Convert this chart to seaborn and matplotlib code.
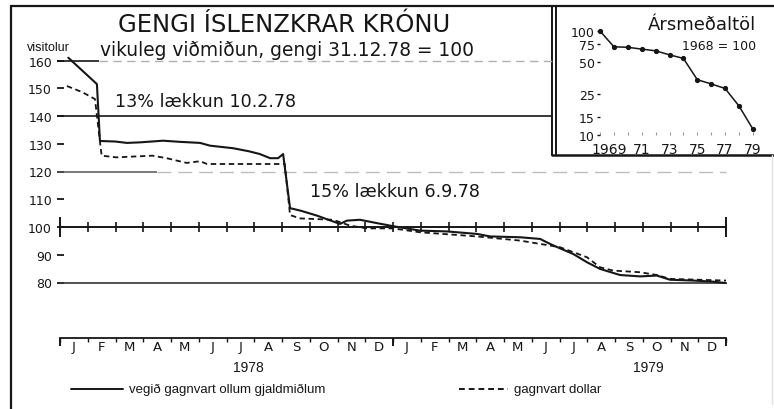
import matplotlib.pyplot as plt
import numpy as np
import seaborn as sns
from matplotlib.ticker import NullFormatter, NullLocator
from matplotlib.transforms import ScaledTranslation


# Gengisvísitala, x = mánuðir frá 1.1.1978 (0..24)
solid_months = [0.3, 1.33, 1.44, 2.0, 2.41, 2.88, 3.3, 3.71, 4.3, 5.05, 5.41, 6.23,
                6.8, 7.2, 7.57, 7.86, 8.04, 8.29, 8.7, 9.26, 10.09, 10.34, 10.81,
                11.42, 12.0, 12.97, 13.95, 15.03, 15.5, 16.58, 17.3, 17.66, 18.02,
                18.49, 18.99, 19.46, 20.18, 20.9, 21.51, 21.98, 22.81, 23.53, 24.0]
solid_index = [161.0, 151.5, 131.0, 130.8, 130.3, 130.5, 130.8, 131.1, 130.7, 130.3,
               129.3, 128.4, 127.3, 126.3, 124.8, 124.8, 126.3, 106.8, 105.8, 104.1,
               101.1, 102.3, 102.6, 101.4, 100.3, 98.7, 98.4, 97.5, 96.6, 96.3, 95.7,
               93.9, 92.3, 90.3, 87.3, 84.9, 82.7, 82.2, 82.5, 81.0, 80.7, 80.3, 79.8]

dollar_months = [0.25, 0.8, 1.26, 1.5, 2.03, 3.33, 3.84, 4.56, 5.05, 5.3, 7.93, 8.1,
                 8.29, 8.65, 9.84, 10.45, 11.06, 12.0, 12.97, 15.03, 16.58, 17.55,
                 18.02, 18.99, 19.46, 19.93, 20.9, 21.51, 21.98, 24.0]
dollar_index = [150.8, 148.6, 146.1, 125.7, 125.1, 125.7, 124.8, 123.1, 123.7, 122.7,
                122.7, 122.7, 104.3, 103.1, 102.6, 100.5, 99.5, 99.5, 98.1, 96.6,
                95.1, 93.5, 92.7, 89.1, 85.5, 84.3, 83.7, 82.7, 81.3, 80.7]

month_letters = ['J', 'F', 'M', 'A', 'M', 'J', 'J', 'A', 'S', 'O', 'N', 'D'] * 2
y_ticks = [160, 150, 140, 130, 120, 110, 100, 90, 80]

# Ársmeðaltöl, 1968 = 100
inset_years = list(range(1968, 1980))
inset_index = [100, 70.5, 69.7, 67, 64.5, 59, 54.5, 34, 31, 28, 19, 11.4]
inset_yticks = [100, 75, 50, 25, 15, 10]
inset_xticks = [1969, 1971, 1973, 1975, 1977, 1979]
inset_xlabels = ['1969', '71', '73', '75', '77', '79']

sns.set_style('white')
plt.rcParams['font.family'] = ['DejaVu Sans']
narrow = ['Liberation Sans Narrow', 'Liberation Sans', 'DejaVu Sans']
ink = '#161616'

W, H = 774, 410
fig = plt.figure(figsize=(W / 100, H / 100), dpi=100)

# pixel-axes fyrir ramma og texta
bg = fig.add_axes([0, 0, 1, 1])
bg.set_xlim(0, W)
bg.set_ylim(H, 0)
bg.axis('off')

# aðalgraf: 60 px = mánuður 0, 27.75 px/mán; 228 px = 100, 2.775 px/einingu
PX_M, X0 = 27.75, 60
PX_U, Y100 = 2.775, 228
ax = fig.add_axes([0, 0, 1, 1])
ax.patch.set_alpha(0)
ax.set_xlim(-X0 / PX_M, (W - X0) / PX_M)
ax.set_ylim(100 - (H - Y100) / PX_U, 100 + Y100 / PX_U)

x_left = -3 / PX_M
x_inset = (552 - X0) / PX_M

# láréttar línur
ax.hlines(160, x_left, 1.4, color=ink, lw=1.2)
ax.hlines(160, 1.4, x_inset, color='#b0b0b0', lw=1.0, linestyles=(0, (6, 4)))
ax.hlines(140, x_left, x_inset, color=ink, lw=1.2)
ax.hlines(120, x_left, 3.5, color='#555555', lw=1.1)
ax.hlines(120, 3.5, 24, color='#bdbdbd', lw=1.0, linestyles=(0, (10, 5)))
ax.hlines(80, x_left, 24, color='#333333', lw=1.2)

edges = np.arange(25)
ax.plot(edges, [100] * len(edges), color=ink, lw=1.4, marker='|', ms=7, mew=1.2)
ax.plot([0, 24], [100, 100], ls='none', color=ink, marker='|', ms=14, mew=1.4)

sns.lineplot(x=solid_months, y=solid_index, ax=ax, color=ink, lw=1.5,
             sort=False, estimator=None)
sns.lineplot(x=dollar_months, y=dollar_index, ax=ax, color=ink, lw=1.3,
             linestyle=(0, (3, 2)), sort=False, estimator=None)

# ásar
for s in ['top', 'right']:
    ax.spines[s].set_visible(False)
ax.spines['left'].set_position(('data', x_left))
ax.spines['left'].set_color('none')
ax.spines['bottom'].set_position(('data', 60))
ax.spines['bottom'].set_bounds(0, 24)
ax.spines['bottom'].set_color(ink)
ax.spines['bottom'].set_linewidth(1.3)

ax.set_yticks(y_ticks, labels=[str(v) for v in y_ticks])
ax.tick_params(axis='y', left=True, direction='in', length=5, width=1.3, pad=3.6,
               labelsize=9, colors=ink)
ax.set_xticks(edges)
ax.xaxis.set_major_formatter(NullFormatter())
ax.set_xticks(np.arange(0.5, 24), labels=month_letters, minor=True)
ax.tick_params(axis='x', which='major', bottom=True, direction='out', length=3,
               width=1, colors=ink)
ax.tick_params(axis='x', which='minor', length=0, pad=1.5, labelsize=9.5, labelcolor=ink)
ax.vlines([0, 12, 24], 60 - 8 / PX_U, 60, color=ink, lw=1.4)

ax.text(6.8, 49.6, '1978', ha='center', va='center', fontsize=10, family=narrow, color=ink)
ax.text(21.2, 49.6, '1979', ha='center', va='center', fontsize=10, family=narrow, color=ink)

ax.text(1.98, 145.4, '13% lækkun 10.2.78', ha='left', va='center', fontsize=12.6, color=ink)
ax.text(9.0, 113.0, '15% lækkun 6.9.78', ha='left', va='center', fontsize=12.6, color=ink)

# rammi
bg.plot([11, 11], [7, H], color=ink, lw=1.6)
bg.plot([11, W], [7, 7], color=ink, lw=1.6)
bg.plot([552, 552], [7, 156], color=ink, lw=1.4)
bg.plot([556, 556], [7, 156], color=ink, lw=1.4)
bg.plot([552, W], [156, 156], color=ink, lw=1.8)
bg.plot([772, 772], [156, 405], color='#e2e2e2', lw=1.0)

bg.text(118, 25, 'GENGI ÍSLENZKRAR KRÓNU', ha='left', va='center', fontsize=17.5, color=ink)
bg.text(100, 50, 'vikuleg viðmiðun, gengi 31.12.78 = 100', ha='left', va='center',
        fontsize=13.4, color=ink)
bg.text(27, 48, 'visitolur', ha='left', va='center', fontsize=9, family=narrow, color=ink)

# skýringar
bg.plot([71, 123], [390, 390], color=ink, lw=1.4)
bg.text(129, 390, 'vegið gagnvart ollum gjaldmiðlum', ha='left', va='center',
        fontsize=9.5, family=narrow, color=ink)
bg.plot([459, 508], [390, 390], color=ink, lw=1.4, linestyle=(0, (3, 2)))
bg.text(514, 390, 'gagnvart dollar', ha='left', va='center', fontsize=9.5,
        family=narrow, color=ink)

# innfellt graf (log)
PX_Y = 13.9
axi = fig.add_axes([597 / W, 1 - 136 / H, (W - 597) / W, 116 / H])
axi.patch.set_alpha(0)
axi.set_yscale('log')
axi.set_ylim(10, 10 ** (1 + 116 / 104))
axi.set_xlim(1968 - 3 / PX_Y, 1968 + (W - 600) / PX_Y)
sns.lineplot(x=inset_years, y=inset_index, ax=axi, color=ink, lw=1.1, marker='o',
             markersize=3, markeredgecolor=ink, sort=False, estimator=None)
for s in axi.spines.values():
    s.set_visible(False)
axi.set_yticks(inset_yticks, labels=[str(v) for v in inset_yticks])
axi.yaxis.set_minor_locator(NullLocator())
axi.tick_params(axis='y', left=True, direction='in', length=2, width=1, pad=1.5,
                labelsize=9, colors=ink)
axi.set_xticks(inset_xticks, labels=inset_xlabels)
axi.set_xticks(inset_years, minor=True)
axi.tick_params(axis='x', which='both', bottom=True, direction='in', length=2.5,
                width=0.8, color='#999999', pad=4.8, labelsize=10, labelcolor=ink)
first = axi.get_xticklabels()[0]
first.set_transform(first.get_transform() + ScaledTranslation(-0.05, 0, fig.dpi_scale_trans))
axi.set_xlabel('')
axi.set_ylabel('')
axi.text(648, 25, 'Ársmeðaltöl', transform=bg.transData, ha='left', va='center',
         fontsize=13, color=ink)
axi.text(756, 47, '1968 = 100', transform=bg.transData, ha='right', va='center',
         fontsize=9, color=ink)

fig.savefig('out.png', dpi=100)
